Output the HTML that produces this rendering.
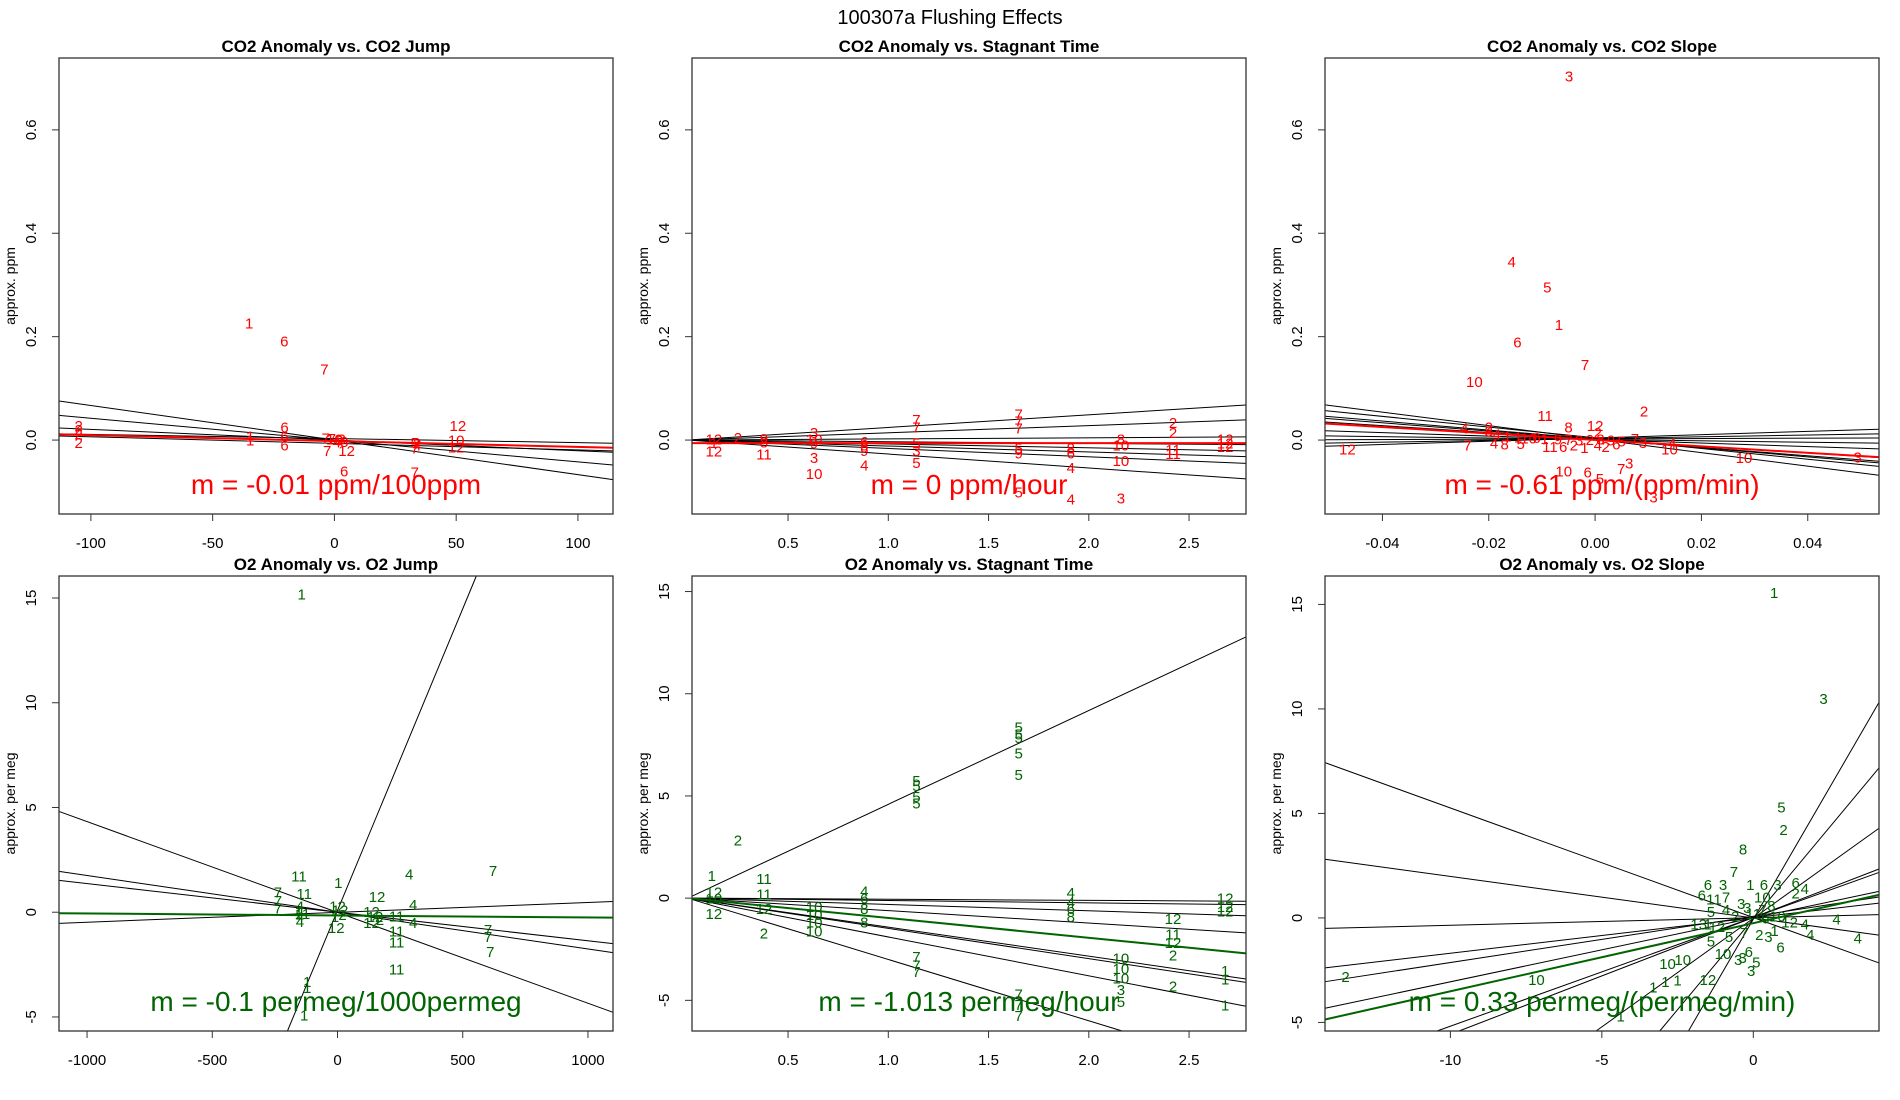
<!DOCTYPE html>
<html><head><meta charset="utf-8"><title>100307a Flushing Effects</title>
<style>
html,body{margin:0;padding:0;background:#fff;width:1900px;height:1100px;overflow:hidden;}
svg{display:block;font-family:"Liberation Sans",Arial,sans-serif;}
</style></head>
<body>
<svg id="chart" width="1900" height="1100" viewBox="0 0 1900 1100">
<rect x="0" y="0" width="1900" height="1100" fill="#fff"/>
<text x="950" y="24" font-size="20" text-anchor="middle">100307a   Flushing Effects</text>
</svg>
<script>
// ---- Panel 1: CO2 Anomaly vs CO2 Jump ----
const p1X=[-35,-20.6,-4.1,-105,-105,-105,-105,-34.6,-34.6,-20.5,-20.5,-20.5,-3.6,-3,5,4,33,34,33,50.7,50,50,0,2,4,-1,3,1,34,33];
const p1Y=[0.226,0.192,0.137,0.028,0.02,0.012,-0.005,0.008,0.0,0.025,0.008,-0.01,0.004,-0.02,-0.02,-0.06,-0.062,-0.006,-0.015,0.028,0.0,-0.013,0.002,0.0,-0.003,0.003,0.002,-0.004,-0.01,-0.005];
const p1Lab=['1','6','7','2','2','2','2','1','1','6','6','6','7','7','12','6','7','2','7','12','10','12','10','9','8','7','3','4','4','5'];
const p1LineSlope=[-0.000668,-0.000422,-0.000207,-0.0000791,-0.000127];
const p1LineInt=[0,0,0,0.003,-0.0064];
const p1FitSlope=-0.000114, p1FitInt=-0.0019;
const p1XTicks=[-100,-50,0,50,100], p1XTickLab=['-100','-50','0','50','100'];
const p1YTicks=[0,0.2,0.4,0.6], p1YTickLab=['0.0','0.2','0.4','0.6'];

// ---- Panel 2: CO2 Anomaly vs Stagnant Time ----
const p2X=[0.13,0.13,0.13,0.25,0.38,0.38,0.38,0.63,0.63,0.63,0.63,0.63,0.88,0.88,0.88,0.88,1.14,1.14,1.14,1.14,1.14,1.65,1.65,1.65,1.65,1.65,1.65,1.91,1.91,1.91,1.91,2.16,2.16,2.16,2.16,2.42,2.42,2.42,2.42,2.68,2.68,2.68];
const p2Y=[0.002,-0.005,-0.021,0.005,0.003,-0.004,-0.027,0.015,0.002,-0.006,-0.034,-0.065,-0.003,-0.01,-0.02,-0.048,0.04,0.025,-0.006,-0.02,-0.043,0.05,0.037,0.023,-0.015,-0.025,-0.1,-0.015,-0.025,-0.053,-0.114,0.002,-0.01,-0.04,-0.112,0.034,0.015,-0.018,-0.026,0.002,-0.006,-0.012];
const p2Lab=['12','1','12','2','9','8','11','3','10','9','3','10','6','8','9','4','7','7','5','3','5','7','7','7','5','9','5','8','6','4','4','8','10','10','3','2','2','11','11','12','12','12'];
const p2LineSlope=[0.0244,0.014,0.0022,-0.0032,-0.0075,-0.0115,-0.0162,-0.027];
const p2LineInt=[0,0,0,0,0,0,0,0];
const p2FitSlope=0, p2FitInt=-0.006;
const p2XTicks=[0.5,1,1.5,2,2.5], p2XTickLab=['0.5','1.0','1.5','2.0','2.5'];
const p2YTicks=[0,0.2,0.4,0.6], p2YTickLab=['0.0','0.2','0.4','0.6'];

// ---- Panel 3: CO2 Anomaly vs CO2 Slope ----
const p3X=[-0.0049,-0.0157,-0.009,-0.0068,-0.0146,-0.0019,-0.0227,-0.0094,0.0092,0,-0.0466,-0.024,-0.0246,0.028,0.0494,0.0064,0.0049,-0.0059,-0.0014,0.0009,0.011,0.014,0.0145,-0.02,-0.0185,-0.0165,-0.0145,-0.0125,-0.011,-0.0095,-0.007,-0.005,-0.003,-0.001,0.001,0.003,0.005,0.0075,0.009,-0.019,-0.017,-0.014,-0.0085,-0.006,-0.004,-0.002,0.0005,0.002,0.004,-0.005,0.0005,-0.02];
const p3Y=[0.704,0.345,0.296,0.224,0.19,0.146,0.113,0.048,0.056,0.028,-0.017,-0.01,0.023,-0.034,-0.033,-0.044,-0.055,-0.06,-0.062,-0.074,-0.11,-0.017,-0.006,0.018,0.012,0.008,0.006,0.004,0.005,0.003,0.002,0.001,0,0.001,0.002,0,-0.002,0.003,-0.005,-0.006,-0.008,-0.007,-0.012,-0.012,-0.01,-0.014,-0.01,-0.012,-0.008,0.025,0.015,0.025];
const p3Lab=['3','4','5','1','6','7','10','11','2','12','12','7','4','10','3','3','7','10','6','5','3','10','4','3','4','1','1','10','6','1','9','7','3','2','8','9','5','7','3','4','8','5','11','6','2','1','4','2','6','8','2','2'];
const p3LineSlope=[-1.305,-1.036,-0.864,-0.797,-0.662,-0.336,-0.134,0.032,0.173,0.317];
const p3LineInt=[0.0017,0.0044,0.0021,0.0015,0.0014,0.0009,0.0012,0.0023,0.0028,0.0041];
const p3FitSlope=-0.624, p3FitInt=0.0003;
const p3XTicks=[-0.04,-0.02,0,0.02,0.04], p3XTickLab=['-0.04','-0.02','0.00','0.02','0.04'];
const p3YTicks=[0,0.2,0.4,0.6], p3YTickLab=['0.0','0.2','0.4','0.6'];

// ---- Panel 4: O2 Anomaly vs O2 Jump ----
const p4X=[-143,-154,3,286,621,-133,-238,-238,-238,0,-5,158,136,136,236,236,236,236,302,302,601,601,610,-121,-121,-133,-150,-150,-150,-150,-140,10,20,-10,150,170];
const p4Y=[15.2,1.74,1.43,1.83,2.0,0.89,0.97,0.55,0.2,0.29,-0.73,0.75,0.03,-0.48,-0.17,-0.9,-1.42,-2.7,0.38,-0.48,-0.82,-1.16,-1.88,-3.3,-3.6,-4.9,0.3,0.05,-0.2,-0.45,-0.05,0.1,-0.1,-0.2,-0.2,-0.35];
const p4Lab=['1','11','1','4','7','11','7','7','7','12','12','12','12','12','11','11','11','11','4','4','7','7','7','1','1','1','4','4','4','4','11','12','2','1','12','2'];
const p4LineSlope=[0.0288,-0.004335,-0.001754,-0.001365,0.00047];
const p4LineInt=[0.085,-0.01,0,0,-0.007];
const p4FitSlope=-0.0000949, p4FitInt=-0.155;
const p4XTicks=[-1000,-500,0,500,1000], p4XTickLab=['-1000','-500','0','500','1000'];
const p4YTicks=[-5,0,5,10,15], p4YTickLab=['-5','0','5','10','15'];

// ---- Panel 5: O2 Anomaly vs Stagnant Time ----
const p5X=[1.65,1.65,1.65,1.65,1.65,1.14,1.14,1.14,1.14,0.25,0.12,0.38,0.38,0.13,0.13,0.13,0.38,0.38,0.63,0.63,0.63,0.63,0.88,0.88,0.88,0.88,1.14,1.14,1.14,1.65,1.65,1.65,1.91,1.91,1.91,1.91,2.42,2.42,2.42,2.42,2.42,2.16,2.16,2.16,2.16,2.16,2.68,2.68,2.68,2.68,2.68,2.68];
const p5Y=[8.38,8.04,7.87,7.11,6.06,5.76,5.5,4.98,4.66,2.85,1.11,0.95,-1.7,-0.74,0.3,0.0,0.2,-0.5,-0.4,-0.8,-1.17,-1.6,0.35,0,-0.5,-1.17,-2.85,-3.28,-3.6,-4.7,-5.2,-5.73,0.27,-0.2,-0.5,-0.9,-1.0,-1.76,-2.18,-2.77,-4.29,-2.94,-3.45,-3.9,-4.46,-5.05,-3.53,-3.95,-5.22,0,-0.4,-0.62];
const p5Lab=['5','5','5','5','5','5','5','5','5','2','1','11','2','12','12','10','11','12','10','10','10','10','4','6','8','8','7','7','7','7','7','7','4','4','6','8','12','11','12','2','2','10','10','10','3','5','1','1','1','12','12','12'];
const p5LineSlope=[4.59,-0.054,-0.115,-0.31,-0.61,-1.42,-1.48,-1.9,-3.0];
const p5LineInt=[0,0,0,0,0,0,0,0,0];
const p5FitSlope=-0.97, p5FitInt=0;
const p5XTicks=[0.5,1,1.5,2,2.5], p5XTickLab=['0.5','1.0','1.5','2.0','2.5'];
const p5YTicks=[-5,0,5,10,15], p5YTickLab=['-5','0','5','10','15'];

// ---- Panel 6: O2 Anomaly vs O2 Slope ----
const p6X=[0.69,2.32,0.93,1.0,-0.34,-0.64,-1.5,-1.0,-0.1,0.35,0.8,1.4,1.7,-13.46,-7.16,-2.83,-2.33,-3.3,-2.9,-2.5,-1.5,-4.38,2.75,3.45,1.88,1.7,-0.07,0.1,-0.15,-0.35,-1.0,-0.5,-1.4,-0.8,-0.3,0.2,0.5,0.9,-1.8,-1.5,-1.2,-0.6,0,0.4,0.8,1.2,-1.7,-1.3,-0.9,-0.4,0.3,0.6,1.4,-1.4,-0.9,-0.2,0.3,0.7];
const p6Y=[15.56,10.5,5.3,4.24,3.3,2.23,1.6,1.6,1.6,1.6,1.6,1.7,1.4,-2.8,-2.94,-2.18,-1.98,-3.3,-3.05,-2.97,-2.94,-4.7,-0.05,-0.96,-0.8,-0.3,-2.52,-2.1,-1.6,-1.9,-1.7,-2.0,-1.1,-0.9,-0.7,-0.8,-0.9,-1.4,-0.3,-0.3,-0.4,0.1,0.2,0,0.1,-0.2,1.1,0.9,1.0,0.7,1.0,0.6,1.2,0.3,0.4,0.5,0.4,-0.6];
const p6Lab=['1','3','5','2','8','7','6','3','1','6','3','6','4','2','10','10','10','1','1','1','12','1','4','4','4','4','3','5','6','3','10','3','5','5','7','2','3','6','13','1','12','2','11','6','10','12','6','11','7','3','10','8','2','5','4','3','7','1'];
const p6LineSlope=[-0.524,-0.1985,0.0361,0.1695,0.2214,0.3056,0.52,0.559,1.0385,1.739,2.499];
const p6LineInt=[0.02,0,0.01,0.007,0.08,0,0.02,0.02,-0.02,-0.04,-0.06];
const p6FitSlope=0.326, p6FitInt=-0.25;
const p6XTicks=[-10,-5,0], p6XTickLab=['-10','-5','0'];
const p6YTicks=[-5,0,5,10,15], p6YTickLab=['-5','0','5','10','15'];

const NS='http://www.w3.org/2000/svg';
const svg=document.getElementById('chart');
function mk(tag,attrs,parent){const e=document.createElementNS(NS,tag);for(const k in attrs)e.setAttribute(k,attrs[k]);(parent||svg).appendChild(e);return e;}

// clip line y=a+b*x to the box [xlim]x[ylim]; returns [x0,x1] or null
function clipLine(a,b,xlim,ylim){
  let x0=xlim[0],x1=xlim[1];
  if(b!==0){
    let xa=(ylim[0]-a)/b, xb=(ylim[1]-a)/b;
    if(xa>xb){const t=xa;xa=xb;xb=t;}
    x0=Math.max(x0,xa);x1=Math.min(x1,xb);
  }else if(a<ylim[0]||a>ylim[1]) return null;
  return x0<x1?[x0,x1]:null;
}

function panel(id,box,xlim,ylim,title,ylab,color,ann,xs,ys,labs,ls,li,fs,fi,xt,xtl,yt,ytl){
  const [L,T,W,H]=box;
  const sx=v=>L+(v-xlim[0])/(xlim[1]-xlim[0])*W;
  const sy=v=>T+(ylim[1]-v)/(ylim[1]-ylim[0])*H;
  const g=mk('g',{});
  
  
  const t=mk('text',{x:L+W/2,y:T-6,'font-size':17,'font-weight':'bold','text-anchor':'middle'},g);
  t.textContent=title;
  
  
  const yl=mk('text',{x:0,y:0,'font-size':14,'text-anchor':'middle',transform:`translate(${L-44},${T+H/2}) rotate(-90)`},g);
  yl.textContent=ylab;
  
  
  const marks=mk('g',{},g);
  for(let i=0;i<ls.length;i++){
    const c=clipLine(li[i],ls[i],xlim,ylim); if(!c) continue;
    const ln=mk('line',{x1:sx(c[0]),y1:sy(li[i]+ls[i]*c[0]),x2:sx(c[1]),y2:sy(li[i]+ls[i]*c[1]),stroke:'#000','stroke-width':1},marks);
    
    
  }
  const fc=clipLine(fi,fs,xlim,ylim);
  if(fc){
    const fl=mk('line',{x1:sx(fc[0]),y1:sy(fi+fs*fc[0]),x2:sx(fc[1]),y2:sy(fi+fs*fc[1]),stroke:color,'stroke-width':2},marks);
    
    
  }
  for(let i=0;i<xs.length;i++){
    const p=mk('text',{x:sx(xs[i]),y:sy(ys[i])+5.5,'font-size':15,'text-anchor':'middle',fill:color},marks);
    p.textContent=labs[i];
    
    
  }
  const a=mk('text',{x:L+W/2,y:T+H-20,'font-size':28,'text-anchor':'middle',fill:color},g);
  a.textContent=ann;
  
  
  const b=mk('rect',{x:L,y:T,width:W,height:H,fill:'none',stroke:'#333','stroke-width':1.3},g);
  
  
  for(let i=0;i<xt.length;i++){
    const x=sx(xt[i]);
    const tk=mk('line',{x1:x,y1:T+H,x2:x,y2:T+H+7,stroke:'#333','stroke-width':1},g);
    
    
    const tl=mk('text',{x:x,y:T+H+34,'font-size':15,'text-anchor':'middle'},g);
    tl.textContent=xtl[i];
    
    
  }
  for(let i=0;i<yt.length;i++){
    const y=sy(yt[i]);
    const tk=mk('line',{x1:L-7,y1:y,x2:L,y2:y,stroke:'#333','stroke-width':1},g);
    
    
    const tl=mk('text',{x:0,y:0,'font-size':15,'text-anchor':'middle',transform:`translate(${L-23},${y}) rotate(-90)`},g);
    tl.textContent=ytl[i];
    
    
  }
}
const RED='#ff0000', GRN='#006400';
const TOP=[58,456], BOT=[576,455];
panel('co2-jump',[59,TOP[0],554,TOP[1]],[-113.1,114.4],[-0.143,0.739],'CO2 Anomaly vs. CO2 Jump','approx. ppm',RED,'m = -0.01 ppm/100ppm',p1X,p1Y,p1Lab,p1LineSlope,p1LineInt,p1FitSlope,p1FitInt,p1XTicks,p1XTickLab,p1YTicks,p1YTickLab);
panel('co2-stagnant',[692,TOP[0],554,TOP[1]],[0.021,2.784],[-0.143,0.739],'CO2 Anomaly vs. Stagnant Time','approx. ppm',RED,'m = 0 ppm/hour',p2X,p2Y,p2Lab,p2LineSlope,p2LineInt,p2FitSlope,p2FitInt,p2XTicks,p2XTickLab,p2YTicks,p2YTickLab);
panel('co2-slope',[1325,TOP[0],554,TOP[1]],[-0.0508,0.0534],[-0.143,0.739],'CO2 Anomaly vs. CO2 Slope','approx. ppm',RED,'m = -0.61 ppm/(ppm/min)',p3X,p3Y,p3Lab,p3LineSlope,p3LineInt,p3FitSlope,p3FitInt,p3XTicks,p3XTickLab,p3YTicks,p3YTickLab);
panel('o2-jump',[59,BOT[0],554,BOT[1]],[-1112,1100],[-5.67,16.05],'O2 Anomaly vs. O2 Jump','approx. per meg',GRN,'m = -0.1 permeg/1000permeg',p4X,p4Y,p4Lab,p4LineSlope,p4LineInt,p4FitSlope,p4FitInt,p4XTicks,p4XTickLab,p4YTicks,p4YTickLab);
panel('o2-stagnant',[692,BOT[0],554,BOT[1]],[0.021,2.784],[-6.5,15.76],'O2 Anomaly vs. Stagnant Time','approx. per meg',GRN,'m = -1.013 permeg/hour',p5X,p5Y,p5Lab,p5LineSlope,p5LineInt,p5FitSlope,p5FitInt,p5XTicks,p5XTickLab,p5YTicks,p5YTickLab);
panel('o2-slope',[1325,BOT[0],554,BOT[1]],[-14.14,4.15],[-5.41,16.36],'O2 Anomaly vs. O2 Slope','approx. per meg',GRN,'m = 0.33 permeg/(permeg/min)',p6X,p6Y,p6Lab,p6LineSlope,p6LineInt,p6FitSlope,p6FitInt,p6XTicks,p6XTickLab,p6YTicks,p6YTickLab);
</script>
</body></html>
